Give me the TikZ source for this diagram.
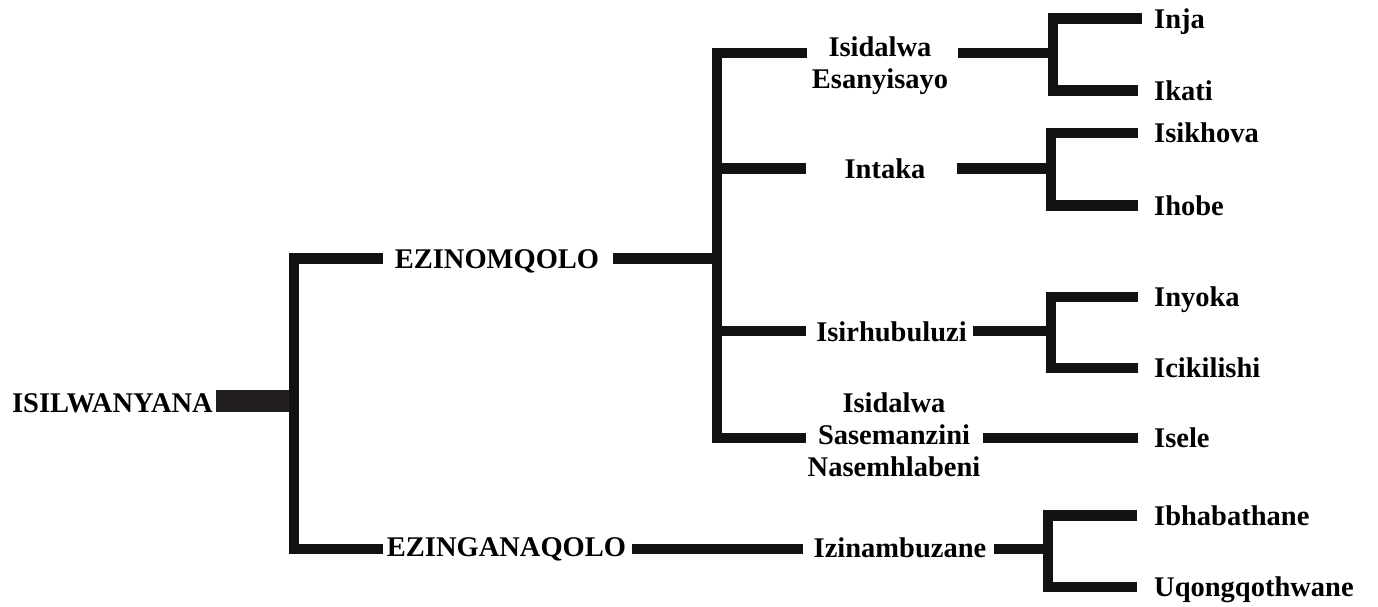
\documentclass[tikz,border=0pt]{standalone}
\usepackage{fontspec}
\setmainfont{Liberation Serif}
\usetikzlibrary{positioning}
\usetikzlibrary{calc}
\definecolor{treeblack}{HTML}{121212}
\definecolor{stembrown}{HTML}{231F20}
\newcommand{\taxfont}{\fontsize{28.5}{32}\selectfont\bfseries}
\tikzstyle{taxon} = [font=\taxfont, inner sep=0pt, text height=19pt, text depth=0pt]
\tikzstyle{taxa} = [font=\taxfont, inner sep=0pt, align=center]
\tikzstyle{branch} = [draw=treeblack, line width=10.5pt, line join=miter]
\tikzstyle{stem} = [draw=stembrown, line width=22pt]

\begin{document}
\begin{tikzpicture}[x=1pt, y=-1pt]
\useasboundingbox (0,0) rectangle (1378,606);

% Define nodes
\node[taxon, anchor=east] (root)   at (213,403)   {ISILWANYANA};
\node[taxon]              (ezn)    at (497,258.5) {EZINOMQOLO};
\node[taxon]              (ezg)    at (506.5,547) {EZINGANAQOLO};
\node[taxa]               (esan)   at (880,66)    {Isidalwa\\Esanyisayo};
\node[taxon]              (intaka) at (885,169)   {Intaka};
\node[taxon]              (isirh)  at (891.5,332) {Isirhubuluzi};
\node[taxa]               (amanzi) at (894,435)   {Isidalwa\\Sasemanzini\\Nasemhlabeni};
\node[taxon]              (izin)   at (900,547.5) {Izinambuzane};

% Junctions
\coordinate (jRoot)  at (294,401);
\coordinate (jMqolo) at (717,258.5);
\coordinate (jSan)   at (1053,53);
\coordinate (jInt)   at (1051,168.5);
\coordinate (jRhu)   at (1051,331);
\coordinate (jIzi)   at (1048,549);

% Leaf ends
\coordinate (cInja)       at (1142,18.5);
\coordinate (cIkati)      at (1138,90.5);
\coordinate (cIsikhova)   at (1138,133);
\coordinate (cIhobe)      at (1138,205.5);
\coordinate (cInyoka)     at (1138,297);
\coordinate (cIcikilishi) at (1138,368);
\coordinate (cIsele)      at (1138,438);
\coordinate (cIbhaba)     at (1137,515.5);
\coordinate (cUqong)      at (1137,587);

\node[taxon, right=12pt of cInja]       (inja)  {Inja};
\node[taxon, right=16pt of cIkati]      (ikati) {Ikati};
\node[taxon, right=16pt of cIsikhova]   (khova) {Isikhova};
\node[taxon, right=16pt of cIhobe]      (hobe)  {Ihobe};
\node[taxon, right=16pt of cInyoka]     (nyoka) {Inyoka};
\node[taxon, right=16pt of cIcikilishi] (ciki)  {Icikilishi};
\node[taxon, right=16pt of cIsele]      (sele)  {Isele};
\node[taxon, right=17pt of cIbhaba]     (bhaba) {Ibhabathane};
\node[taxon, right=17pt of cUqong]      (uqong) {Uqongqothwane};

% Edges
\draw[stem] ($(root.east|-jRoot)+(3,0)$) -- (jRoot);
\draw[branch] ($(ezn.west)+(-12,0)$) -| (jRoot) |- ($(ezg.west|-jIzi)+(-4,0)$);

\draw[branch] ($(ezn.east)+(14,0)$) -- (jMqolo);
\draw[branch] ($(esan.west|-jSan)+(-5,0)$) -| (jMqolo) |- ($(amanzi.west|-cIsele)+(-2,0)$);
\draw[branch] (jMqolo|-jInt) -- ($(intaka.west|-jInt)+(-38,0)$);
\draw[branch] (jMqolo|-jRhu) -- ($(isirh.west|-jRhu)+(-10,0)$);
\draw[branch] ($(ezg.east|-jIzi)+(6,0)$) -- ($(izin.west|-jIzi)+(-11,0)$);

\draw[branch] ($(esan.east|-jSan)+(10,0)$) -- (jSan);
\draw[branch] (cInja) -| (jSan) |- (cIkati);
\draw[branch] ($(intaka.east|-jInt)+(31,0)$) -- (jInt);
\draw[branch] (cIsikhova) -| (jInt) |- (cIhobe);
\draw[branch] ($(isirh.east|-jRhu)+(6,0)$) -- (jRhu);
\draw[branch] (cInyoka) -| (jRhu) |- (cIcikilishi);
\draw[branch] ($(amanzi.east|-cIsele)+(2,0)$) -- (cIsele);
\draw[branch] ($(izin.east|-jIzi)+(7,0)$) -- (jIzi);
\draw[branch] (cIbhaba) -| (jIzi) |- (cUqong);

\end{tikzpicture}
\end{document}
